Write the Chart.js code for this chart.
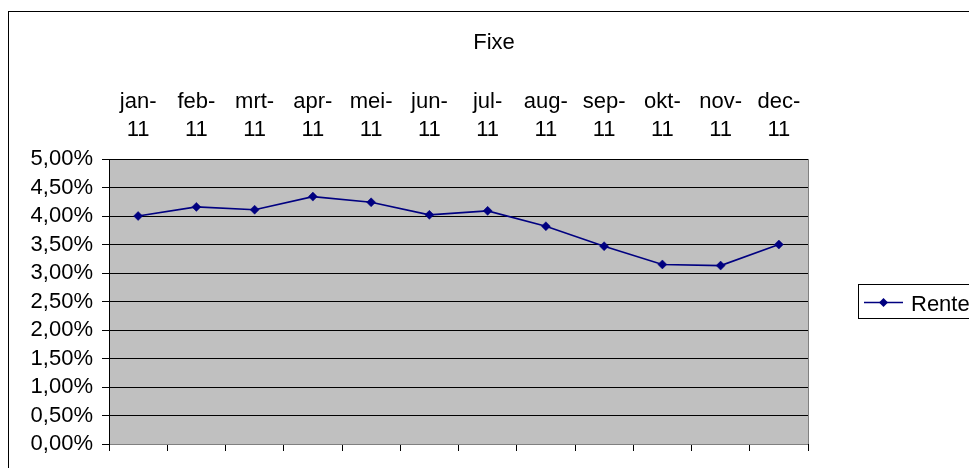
<!DOCTYPE html>
<html>
<head>
<meta charset="utf-8">
<script src="https://cdn.jsdelivr.net/npm/chart.js@4"></script>
<style>
  html, body { margin: 0; padding: 0; background: #fff; }
  canvas { display: block; }
</style>
</head>
<body>
<canvas id="c" width="969" height="468"></canvas>
<script>
// ---- data ----
const chartTitle = 'Fixe';
const categories = [['jan-','11'],['feb-','11'],['mrt-','11'],['apr-','11'],['mei-','11'],['jun-','11'],
                    ['jul-','11'],['aug-','11'],['sep-','11'],['okt-','11'],['nov-','11'],['dec-','11']];
const seriesName = 'Rente';
const renteValues = [4.00, 4.16, 4.11, 4.34, 4.24, 4.02, 4.09, 3.82, 3.47, 3.15, 3.13, 3.50];
const yMin = 0, yMax = 5, yStep = 0.5;

const FONT = '"Liberation Sans", Arial, sans-serif';
const LINE_COLOR = '#000080';

const bgPlugin = {
  id: 'bg',
  beforeDraw(chart) {
    const ctx = chart.ctx, a = chart.chartArea;
    ctx.save();
    ctx.fillStyle = '#fff';
    ctx.fillRect(0, 0, chart.width, chart.height);
    ctx.strokeStyle = '#000';
    ctx.lineWidth = 1;
    ctx.strokeRect(8.5, 11.5, 1200, 1200);
    ctx.fillStyle = '#C0C0C0';
    ctx.fillRect(a.left, a.top, a.right - a.left, a.bottom - a.top);
    ctx.strokeStyle = '#808080';
    ctx.strokeRect(Math.round(a.left) + 0.5, Math.round(a.top) + 0.5,
                   Math.round(a.right - a.left), Math.round(a.bottom - a.top));
    ctx.restore();
  },
  afterDraw(chart) {
    const ctx = chart.ctx;
    const ds = chart.data.datasets[0];
    ctx.save();
    // legend box
    ctx.strokeStyle = '#000';
    ctx.lineWidth = 1;
    ctx.strokeRect(858.5, 284.5, 200, 34);
    const ly = 302.5;
    ctx.strokeStyle = ds.borderColor;
    ctx.lineWidth = ds.borderWidth;
    ctx.beginPath();
    ctx.moveTo(864, ly);
    ctx.lineTo(903, ly);
    ctx.stroke();
    // diamond marker
    const cx = 883.5, r = ds.pointRadius;
    ctx.fillStyle = ds.pointBackgroundColor;
    ctx.beginPath();
    ctx.moveTo(cx - r, ly); ctx.lineTo(cx, ly - r); ctx.lineTo(cx + r, ly); ctx.lineTo(cx, ly + r);
    ctx.closePath();
    ctx.fill();
    ctx.fillStyle = '#000';
    ctx.font = '22px ' + FONT;
    ctx.textBaseline = 'alphabetic';
    ctx.textAlign = 'left';
    ctx.fillText(ds.label, 911, 310.5);
    ctx.restore();
  }
};

new Chart(document.getElementById('c'), {
  type: 'line',
  data: {
    labels: categories,
    datasets: [{
      label: seriesName,
      data: renteValues,
      borderColor: LINE_COLOR,
      backgroundColor: LINE_COLOR,
      borderWidth: 1.6,
      pointStyle: 'rectRot',
      pointRadius: 4.5,
      pointBorderWidth: 0.5,
      pointBackgroundColor: LINE_COLOR,
      pointBorderColor: LINE_COLOR,
      tension: 0,
      xAxisID: 'x',
      yAxisID: 'y'
    }]
  },
  options: {
    responsive: false,
    animation: false,
    devicePixelRatio: 1,
    layout: { padding: { left: 19, right: 0, top: 0, bottom: 0 } },
    plugins: {
      legend: { display: false },
      tooltip: { enabled: false },
      title: {
        display: true,
        text: chartTitle,
        color: '#000',
        font: { family: FONT, size: 22, weight: 'normal', lineHeight: 1.2 },
        padding: { top: 30, bottom: 0 }
      }
    },
    scales: {
      x: {
        type: 'category',
        position: 'bottom',
        offset: true,
        ticks: { display: false },
        grid: { display: true, offset: true, drawOnChartArea: false, drawTicks: true,
                tickLength: 7, color: '#000', lineWidth: 1 },
        border: { display: false },
        afterFit(s) { s.height = 24; }
      },
      xTop: {
        type: 'category',
        position: 'top',
        offset: true,
        labels: categories,
        ticks: {
          color: '#000',
          font: { family: FONT, size: 22, lineHeight: 28 / 22 },
          padding: 15,
          maxRotation: 0,
          autoSkip: false
        },
        grid: { display: false, drawTicks: false },
        border: { display: false },
        afterFit(s) { s.height = 159 - 56.4; }
      },
      y: {
        type: 'linear',
        position: 'left',
        min: yMin,
        max: yMax,
        ticks: {
          stepSize: yStep,
          autoSkip: false,
          color: '#000',
          padding: 9,
          font: { family: FONT, size: 22 },
          callback: v => v.toFixed(2).replace('.', ',') + '%'
        },
        grid: {
          color: c => (c.tick && c.tick.value === 0) ? '#808080' : '#000',
          tickColor: '#000',
          tickLength: 7,
          lineWidth: 1
        },
        border: { display: true, color: '#000', width: 1 },
        afterFit(s) { s.width = 90; }
      },
      yR: {
        type: 'linear',
        position: 'right',
        display: true,
        ticks: { display: false },
        grid: { display: false, drawTicks: false },
        border: { display: false },
        afterFit(s) { s.width = 161; }
      }
    }
  },
  plugins: [bgPlugin]
});
</script>
</body>
</html>
